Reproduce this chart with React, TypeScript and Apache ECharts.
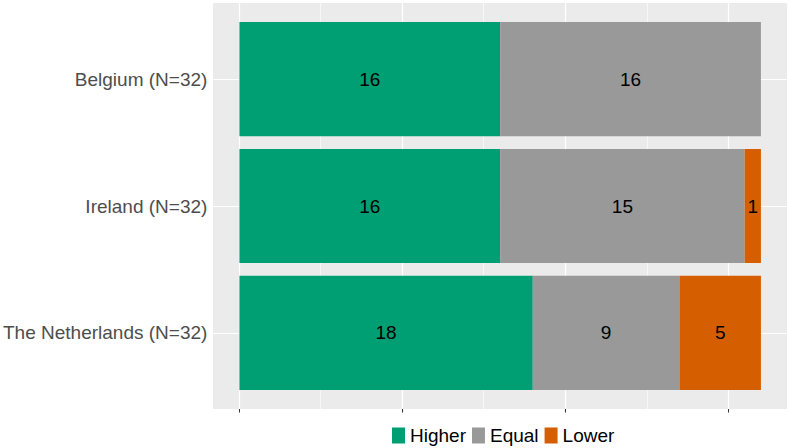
import React, { useEffect, useRef } from "react";
import * as echarts from "echarts";

const countries = ["Belgium (N=32)", "Ireland (N=32)", "The Netherlands (N=32)"];
const higher = [16, 16, 18];
const equal = [16, 15, 9];
const lower = [0, 1, 5];
const majorTicks = [0, 10, 20, 30];
const minorTicks = [5, 15, 25];

const FONT = "Liberation Sans, Arial, Helvetica, sans-serif";

export default function App() {
  const ref = useRef<HTMLDivElement>(null);
  useEffect(() => {
    if (!ref.current) return;
    const chart = echarts.init(ref.current, undefined, { renderer: "svg" });
    const barLabel = {
      show: true,
      position: "inside",
      color: "#000",
      fontSize: 19,
      fontFamily: FONT,
      formatter: (p: any) => (p.value > 0 ? String(p.value) : ""),
    };
    const mk = (name: string, data: number[], color: string) => ({
      type: "bar",
      name,
      stack: "total",
      data,
      xAxisIndex: 1,
      yAxisIndex: 1,
      barWidth: "90%",
      z: 3,
      itemStyle: { color },
      label: barLabel,
      emphasis: { disabled: true },
    });
    const gridLines: any[] = [
      ...minorTicks.map((v) => ({ xAxis: v, lineStyle: { color: "#fff", width: 0.6, type: "solid" } })),
      ...majorTicks.map((v) => ({ xAxis: v, lineStyle: { color: "#fff", width: 1.2, type: "solid" } })),
      ...countries.map((_, i) => ({ yAxis: i + 1, lineStyle: { color: "#fff", width: 1.2, type: "solid" } })),
    ];
    const panelTop = 3;
    const panelH = 406;
    const band = panelH / 3.2;
    chart.setOption({
      animation: false,
      textStyle: { fontFamily: FONT },
      grid: [
        {
          left: 213,
          top: panelTop,
          width: 574,
          height: panelH,
          show: true,
          backgroundColor: "#EBEBEB",
          borderWidth: 0,
        },
        {
          left: 213,
          top: panelTop + band * 0.1,
          width: 574,
          height: band * 3,
          show: false,
        },
      ],
      legend: {
        data: ["Higher", "Equal", "Lower"],
        left: 392,
        top: 426,
        icon: "rect",
        itemWidth: 13,
        itemHeight: 16,
        itemGap: 6,
        textStyle: { fontSize: 19, color: "#000", fontFamily: FONT },
        padding: 0,
      },
      xAxis: [
        {
          type: "value",
          gridIndex: 0,
          min: -1.6,
          max: 33.6,
          axisLine: { show: false },
          axisLabel: { show: false, customValues: majorTicks },
          axisTick: { show: true, length: 3.5, lineStyle: { color: "#333", width: 1 }, customValues: majorTicks },
          splitLine: { show: false },
        },
        {
          type: "value",
          gridIndex: 1,
          min: -1.6,
          max: 33.6,
          show: false,
          splitLine: { show: false },
        },
      ],
      yAxis: [
        {
          type: "value",
          gridIndex: 0,
          min: 0.4,
          max: 3.6,
          inverse: true,
          show: false,
          splitLine: { show: false },
        },
        {
          type: "category",
          gridIndex: 1,
          data: countries,
          inverse: true,
          axisLine: { show: false },
          axisTick: { show: true, alignWithLabel: true, length: 3.5, lineStyle: { color: "#333", width: 1 } },
          axisLabel: { color: "#4D4D4D", fontSize: 19, fontFamily: FONT, margin: 6 },
          splitLine: { show: false },
        },
      ],
      series: [
        {
          type: "line",
          name: "grid",
          xAxisIndex: 0,
          yAxisIndex: 0,
          data: [],
          z: 1,
          silent: true,
          markLine: {
            silent: true,
            z: 1,
            symbol: ["none", "none"],
            label: { show: false },
            animation: false,
            data: gridLines,
          },
        },
        mk("Higher", higher, "#009E73"),
        mk("Equal", equal, "#999999"),
        mk("Lower", lower, "#D55E00"),
      ],
    });
    return () => chart.dispose();
  }, []);
  return <div ref={ref} style={{ width: 790, height: 448, position: "absolute", left: 0, top: 0 }} />;
}
